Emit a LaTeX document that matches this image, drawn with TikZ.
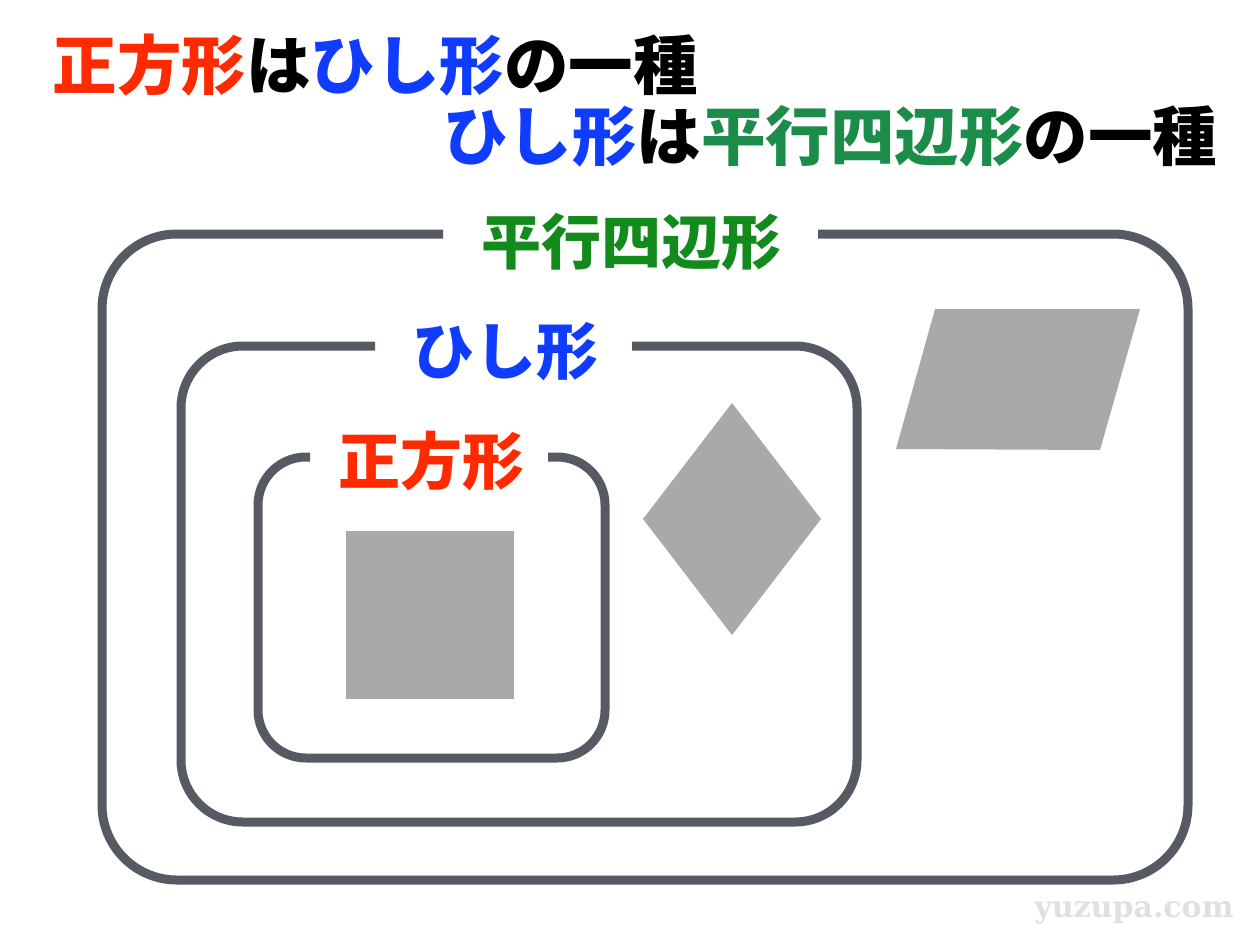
\documentclass[tikz,border=0pt]{standalone}
\usepackage{fontspec}
\newfontfamily\jp{Noto Sans CJK JP}
\newfontfamily\wm{DejaVu Serif}
\definecolor{cred}{HTML}{FF2A00}
\definecolor{cblue}{HTML}{0F3CFF}
\definecolor{cgreen}{HTML}{128A1C}
\definecolor{tgreen}{HTML}{1B8C4A}
\definecolor{frame}{HTML}{565A62}
\definecolor{shape}{HTML}{A8A9A8}
\tikzset{
  framebox/.style={draw=frame, line width=9pt},
  title/.style={font=\jp\bfseries\fontsize{64.5}{72}\selectfont, inner sep=0pt},
  lab/.style={font=\jp\bfseries\fontsize{62}{70}\selectfont, inner sep=0pt},
  fig/.style={fill=shape, draw=none}
}
\begin{document}
\begin{tikzpicture}[x=1pt,y=-1pt]
\useasboundingbox[fill=white] (0,0) rectangle (1260,945);
% title
\node[title, anchor=center] (t1) at (375,65) {\textcolor{cred}{正方形}は\textcolor{cblue}{ひし形}の一種};
\node[title, anchor=center] (t2) at (830,136) {\textcolor{cblue}{ひし形}は\textcolor{tgreen}{平行四辺形}の一種};
% frames
\draw[framebox, rounded corners=75pt] (818,234) -- (1188,234) -- (1188,880) -- (102,880) -- (102,234) -- (443,234);
\draw[framebox, rounded corners=62pt] (632,346) -- (857,346) -- (857,822) -- (181,822) -- (181,346) -- (375,346);
\draw[framebox, rounded corners=48pt] (548,457) -- (605,457) -- (605,758) -- (258,758) -- (258,457) -- (310,457);
% labels
\node[lab, text=cgreen, font=\jp\bfseries\fontsize{60}{68}\selectfont] (lp) at (631,242) {平行四辺形};
\node[lab, text=cblue] (lh) at (505,352) {ひし形};
\node[lab, text=cred] (ls) at (431,461) {正方形};
% shapes
\fill[fig] (346,531) rectangle (514,699);
\fill[fig] (732,403) -- (821,519) -- (732,635) -- (643,519) -- cycle;
\fill[fig] (935,309) -- (1140,309) -- (1100,450) -- (896,449) -- cycle;
% watermark
\node[font=\wm\bfseries\fontsize{30}{34}\selectfont, text=black!12, inner sep=0pt] (wm) at (1134,913) {yuzupa.com};
\end{tikzpicture}
\end{document}
